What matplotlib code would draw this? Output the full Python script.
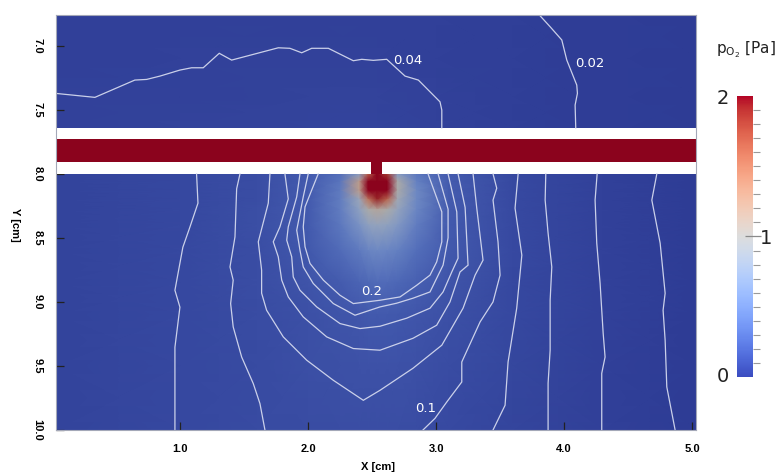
import numpy as np
import matplotlib
matplotlib.use("Agg")
import matplotlib.pyplot as plt
from matplotlib.colors import ListedColormap, Normalize
from matplotlib.colorbar import ColorbarBase

# ---------------- data ----------------
# oxygen partial pressure field below the tube [Pa]
x_low = [0.03, 1.0, 1.6, 2.0, 2.25, 2.4, 2.47, 2.54, 2.62, 2.7, 2.85, 3.1, 3.6, 4.3, 5.03]
y_low = [8.0, 8.06, 8.13, 8.2, 8.28, 8.4, 8.6, 8.85, 9.1, 9.5, 10.0]
p_low = [
    [0.055, 0.08, 0.115, 0.19, 0.32, 0.7, 1.6, 3.0, 1.8, 0.7, 0.38, 0.19, 0.085, 0.04, 0.012],
    [0.055, 0.08, 0.115, 0.19, 0.36, 1.2, 2.8, 3.0, 2.8, 1.0, 0.45, 0.2, 0.086, 0.04, 0.012],
    [0.055, 0.08, 0.116, 0.19, 0.4, 1.2, 2.8, 3.0, 2.7, 1.0, 0.5, 0.2, 0.087, 0.041, 0.012],
    [0.055, 0.08, 0.117, 0.19, 0.42, 0.85, 1.5, 1.9, 1.6, 0.9, 0.5, 0.2, 0.088, 0.041, 0.012],
    [0.056, 0.081, 0.118, 0.19, 0.42, 0.75, 1.0, 1.1, 1.0, 0.8, 0.48, 0.2, 0.088, 0.042, 0.013],
    [0.056, 0.081, 0.118, 0.19, 0.38, 0.6, 0.75, 0.8, 0.76, 0.66, 0.42, 0.19, 0.088, 0.042, 0.013],
    [0.056, 0.082, 0.115, 0.175, 0.3, 0.4, 0.47, 0.5, 0.48, 0.44, 0.32, 0.18, 0.087, 0.042, 0.013],
    [0.056, 0.082, 0.112, 0.15, 0.2, 0.25, 0.28, 0.3, 0.29, 0.27, 0.22, 0.155, 0.085, 0.041, 0.013],
    [0.056, 0.081, 0.105, 0.13, 0.155, 0.17, 0.18, 0.185, 0.18, 0.175, 0.16, 0.13, 0.08, 0.04, 0.013],
    [0.055, 0.08, 0.1, 0.12, 0.13, 0.135, 0.14, 0.14, 0.14, 0.135, 0.125, 0.105, 0.072, 0.038, 0.012],
    [0.055, 0.079, 0.098, 0.105, 0.11, 0.11, 0.11, 0.11, 0.11, 0.11, 0.105, 0.09, 0.065, 0.036, 0.011],
]

# field above the tube [Pa]
x_up = [0.03, 1.0, 2.0, 2.54, 3.0, 3.6, 4.1, 4.5, 5.03]
y_up = [6.76, 7.1, 7.4, 7.643]
p_up = [
    [0.032, 0.035, 0.036, 0.035, 0.032, 0.025, 0.02, 0.016, 0.012],
    [0.037, 0.04, 0.045, 0.041, 0.035, 0.027, 0.021, 0.017, 0.012],
    [0.04, 0.045, 0.05, 0.048, 0.042, 0.03, 0.021, 0.017, 0.012],
    [0.042, 0.047, 0.055, 0.055, 0.043, 0.03, 0.021, 0.017, 0.012],
]
tube_value = 2.0

# iso-lines (x [cm], Y [cm])
iso004_x = [0.03, 0.336, 0.648, 0.740, 0.844, 1.0, 1.091, 1.182, 1.307, 1.404, 1.768, 1.859, 1.951, 2.029,
            2.159, 2.354, 2.420, 2.510, 2.615, 2.758, 2.862, 3.031, 3.045, 3.045]
iso004_y = [7.372, 7.403, 7.268, 7.263, 7.237, 7.19, 7.172, 7.172, 7.059, 7.112, 7.016, 7.020, 7.055, 7.020,
            7.020, 7.117, 7.106, 7.114, 7.106, 7.237, 7.268, 7.438, 7.502, 7.643]
iso002_x = [3.807, 3.891, 3.982, 4.021, 4.099, 4.104, 4.086, 4.091]
iso002_y = [6.760, 6.852, 6.955, 7.112, 7.307, 7.372, 7.463, 7.643]

u020_x = [2.080, 2.029, 1.977, 1.963, 1.977, 2.016, 2.120, 2.250, 2.354, 2.5625, 2.719, 2.849, 2.953, 3.005,
          3.045, 3.045, 2.9375]
u020_y = [8.0, 8.127, 8.258, 8.414, 8.570, 8.700, 8.830, 8.948, 9.013, 8.987, 8.961, 8.870, 8.791, 8.6875,
          8.531, 8.297, 8.0]
u018_x = [2.002, 1.963, 1.912, 1.9375, 1.963, 2.041, 2.198, 2.367, 2.5625, 2.693, 2.820, 2.953, 3.055, 3.094,
          3.094, 3.016]
u018_y = [8.0, 8.180, 8.440, 8.596, 8.727, 8.856, 9.013, 9.104, 9.039, 9.010, 8.971, 8.922, 8.713, 8.5,
          8.276, 8.0]
u016_x = [1.9375, 1.912, 1.846, 1.834, 1.873, 1.885, 1.9375, 2.068, 2.25, 2.406, 2.5625, 2.771, 2.953, 3.055,
          3.123, 3.172, 3.162, 3.094]
u016_y = [8.0, 8.180, 8.414, 8.518, 8.648, 8.805, 8.909, 9.039, 9.169, 9.208, 9.19, 9.127, 9.049, 8.922,
          8.766, 8.659, 8.297, 8.0]
u014_x = [1.820, 1.846, 1.781, 1.729, 1.768, 1.795, 1.846, 1.963, 2.146, 2.354, 2.5625, 2.820, 3.005, 3.109,
          3.1875, 3.25, 3.227, 3.172]
u014_y = [8.0, 8.196, 8.414, 8.531, 8.648, 8.830, 8.961, 9.117, 9.273, 9.364, 9.377, 9.284, 9.182, 9.0,
          8.766, 8.713, 8.262, 8.0]
u012_x = [1.703, 1.690, 1.612, 1.638, 1.638, 1.677, 1.807, 1.990, 2.198, 2.432, 2.5625, 2.820, 3.045, 3.211,
          3.305, 3.367, 3.318, 3.289]
u012_y = [8.0, 8.229, 8.531, 8.752, 8.932, 9.065, 9.273, 9.455, 9.612, 9.768, 9.690, 9.518, 9.338, 9.049,
          8.791, 8.674, 8.268, 8.0]
r010_x = [3.445, 3.474, 3.445, 3.484, 3.5, 3.445, 3.344, 3.201, 3.201, 3.084, 2.992, 2.898]
r010_y = [8.0, 8.112, 8.205, 8.531, 8.791, 9.0, 9.156, 9.469, 9.625, 9.781, 9.909, 10.0]
l010_x = [1.469, 1.443, 1.430, 1.391, 1.416, 1.396, 1.416, 1.482, 1.573, 1.625, 1.664]
l010_y = [8.0, 8.117, 8.492, 8.727, 8.830, 9.013, 9.195, 9.430, 9.638, 9.794, 10.0]
l008_x = [1.130, 1.141, 1.078, 1.023, 0.961, 1.0, 0.961, 0.961]
l008_y = [8.0, 8.229, 8.416, 8.573, 8.909, 9.041, 9.354, 10.0]
r008_x = [3.641, 3.617, 3.670, 3.630, 3.5625, 3.539, 3.445]
r008_y = [8.0, 8.268, 8.635, 9.049, 9.469, 9.807, 10.0]
r006_x = [3.857, 3.852, 3.875, 3.904, 3.891, 3.891, 3.875, 3.875]
r006_y = [8.0, 8.205, 8.463, 8.727, 8.987, 9.377, 9.635, 10.0]
r004_x = [4.258, 4.242, 4.255, 4.281, 4.305, 4.320, 4.294, 4.294]
r004_y = [8.0, 8.205, 8.541, 8.854, 9.244, 9.430, 9.557, 10.0]
r002_x = [4.724, 4.685, 4.75, 4.789, 4.773, 4.789, 4.802, 4.867]
r002_y = [8.0, 8.205, 8.541, 8.932, 9.065, 9.299, 9.664, 10.0]

iso_label_text = ["0.04", "0.02", "0.2", "0.1"]
iso_label_x = [2.781, 4.203, 2.496, 2.922]
iso_label_y = [7.112, 7.135, 8.916, 9.830]

x_ticks = [1.0, 2.0, 3.0, 4.0, 5.0]
y_ticks = [7.0, 7.5, 8.0, 8.5, 9.0, 9.5, 10.0]
cbar_min, cbar_max = 0.0, 2.0
cbar_minor = [round(0.1 * i, 1) for i in range(1, 20)]

# ---------------- geometry / style ----------------
XLIM = (0.03, 5.03)
YLIM = (10.0, 6.76)
WALL_TOP, LUMEN_TOP, LUMEN_BOT, WALL_BOT = 7.643, 7.731, 7.909, 8.0
STEM_X0, STEM_X1 = 2.49, 2.58

base = plt.get_cmap("coolwarm")(np.linspace(0, 1, 256))
shaded = base.copy()
shaded[:, :3] *= 0.77
cmap_plot = ListedColormap(shaded)
cmap_plot.set_over(shaded[-1])
norm = Normalize(cbar_min, cbar_max)

fig = plt.figure(figsize=(7.8, 4.75), dpi=100)
ax = fig.add_axes([55.7 / 780, 45 / 475, 640.3 / 780, 415 / 475])

ax.pcolormesh(np.array(x_low), np.array(y_low), np.array(p_low), shading="gouraud",
              cmap=cmap_plot, norm=norm, zorder=1)
ax.pcolormesh(np.array(x_up), np.array(y_up), np.array(p_up), shading="gouraud",
              cmap=cmap_plot, norm=norm, zorder=1)

red = cmap_plot(norm(tube_value))
ax.axhspan(WALL_TOP, LUMEN_TOP, color="white", zorder=2, lw=0)
ax.axhspan(LUMEN_BOT, WALL_BOT, color="white", zorder=2, lw=0)
ax.axhspan(LUMEN_TOP, LUMEN_BOT, color=red, zorder=2, lw=0)
ax.fill_between([STEM_X0, STEM_X1], LUMEN_BOT - 0.002, WALL_BOT + 0.004, color=red, zorder=2, lw=0)

line_kw = dict(color="#d3d8ee", lw=0.9, alpha=0.95, zorder=3, solid_joinstyle="miter")
for xs, ys in [(iso004_x, iso004_y), (iso002_x, iso002_y), (u020_x, u020_y), (u018_x, u018_y),
               (u016_x, u016_y), (u014_x, u014_y), (u012_x, u012_y), (r010_x, r010_y),
               (l010_x, l010_y), (l008_x, l008_y), (r008_x, r008_y), (r006_x, r006_y),
               (r004_x, r004_y), (r002_x, r002_y)]:
    ax.plot(xs, ys, **line_kw)

for t, lx, ly in zip(iso_label_text, iso_label_x, iso_label_y):
    ax.text(lx, ly, t, color="white", fontsize=9.5, ha="center", va="center", zorder=4,
            family="DejaVu Sans")

ax.set_xlim(*XLIM)
ax.set_ylim(*YLIM)
ax.set_xticks(x_ticks)
ax.set_yticks(y_ticks)
ax.set_xticklabels([f"{v:.1f}" for v in x_ticks], fontsize=8, fontweight="bold", family="Liberation Sans")
ax.set_yticklabels([f"{v:.1f}" for v in y_ticks], fontsize=8, fontweight="bold", family="Liberation Sans",
                   rotation=-90, va="center")
ax.tick_params(axis="both", direction="in", length=5.5, width=0.9, color="#222222")
ax.tick_params(axis="x", pad=10)
ax.tick_params(axis="y", pad=9.5)
for s in ax.spines.values():
    s.set_color("#a4a8b8")
    s.set_linewidth(0.8)
    s.set_zorder(5)

fig.text(378 / 780, 1 - 467 / 475, "X [cm]", fontsize=8, fontweight="bold", family="Liberation Sans",
         ha="center", va="center")
fig.text(15 / 780, 1 - 225 / 475, "Y [cm]", fontsize=8, fontweight="bold", family="Liberation Sans",
         ha="center", va="center", rotation=-90)

# colour bar
cax = fig.add_axes([737 / 780, 1 - 377 / 475, 16 / 780, 281 / 475])
cb = ColorbarBase(cax, cmap=plt.get_cmap("coolwarm"), norm=norm, orientation="vertical")
cb.outline.set_visible(False)
cax.yaxis.set_ticks_position("right")
cax.set_yticks([1.0])
cax.set_yticklabels([])
cax.set_yticks(cbar_minor, minor=True)
cax.tick_params(which="minor", direction="out", length=5, width=0.8, color="#9a9a9a")
cax.tick_params(which="major", direction="inout", length=11, width=0.9, color="#8a8a8a")
fig.text(723 / 780, 1 - 98 / 475, "2", fontsize=14, ha="center", va="center", color="#222222")
fig.text(723 / 780, 1 - 377 / 475, "0", fontsize=14, ha="center", va="center", color="#222222")
fig.text(766 / 780, 1 - 238 / 475, "1", fontsize=14, ha="center", va="center", color="#222222")
fig.text(716 / 780, 1 - 53 / 475, r"$\mathregular{p_{O_2}}$ [Pa]", fontsize=11, ha="left",
         va="baseline", color="#222222")

fig.savefig("out.png", dpi=100)
